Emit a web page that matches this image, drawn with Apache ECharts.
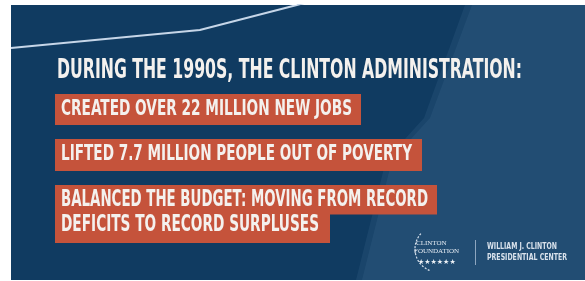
<!DOCTYPE html>
<html>
<head>
<meta charset="utf-8">
<script src="https://cdn.jsdelivr.net/npm/echarts@6/dist/echarts.min.js"></script>
<style>
  html, body { margin: 0; padding: 0; background: #fff; }
  #main { width: 585px; height: 281px; }
</style>
</head>
<body>
<div id="main"></div>
<script>
// trend line at the top of the panel (x / y in percent of the panel)
var trendX = [0, 32.9, 49.8, 60.8];
var trendY = [84.4, 90.9, 100, 106.2];

var heading = 'DURING THE 1990S, THE CLINTON ADMINISTRATION:';
var facts = [
    'CREATED OVER 22 MILLION NEW JOBS',
    'LIFTED 7.7 MILLION PEOPLE OUT OF POVERTY',
    'BALANCED THE BUDGET: MOVING FROM RECORD',
    'DEFICITS TO RECORD SURPLUSES'
];
var logoLeft = ['CLINTON', 'FOUNDATION'];
var logoRight = ['WILLIAM J. CLINTON', 'PRESIDENTIAL CENTER'];

var FONT_FAMILY = '"Liberation Sans Narrow", "DejaVu Sans Condensed", "Liberation Sans", sans-serif';
var NAVY = '#103b61';
var RED = '#c5533b';

// canvas used to measure text so it can be squeezed to the condensed width
var measureCtx = document.createElement('canvas').getContext('2d');
function squeezed(text, size, left, midY, width, color, z) {
    var font = 'bold ' + size + 'px ' + FONT_FAMILY;
    measureCtx.font = font;
    var w = measureCtx.measureText(text).width;
    return {
        type: 'text',
        x: left,
        y: midY,
        scaleX: width / w,
        z: z || 50,
        style: {
            text: text,
            font: font,
            fill: color || '#f4f1ee',
            align: 'left',
            verticalAlign: 'middle'
        }
    };
}

function box(x1, y1, x2, y2) {
    return {
        type: 'rect',
        z: 40,
        shape: { x: x1, y: y1, width: x2 - x1, height: y2 - y1 },
        style: { fill: RED }
    };
}

var chart = echarts.init(document.getElementById('main'), null, { renderer: 'canvas' });

var elements = [
    // panel background
    { type: 'rect', z: -20, shape: { x: 11, y: 5, width: 574, height: 275 }, style: { fill: NAVY } },
    // lighter diagonal area on the right (soft edge)
    { type: 'polygon', z: -19, shape: { points: [[465, 5], [585, 5], [585, 280], [356, 280], [386, 160], [424, 118]] },
      style: { fill: 'rgba(70,118,156,0.18)' } },
    { type: 'polygon', z: -18, shape: { points: [[472, 5], [585, 5], [585, 280], [362, 280], [392, 160], [430, 118]] },
      style: { fill: 'rgba(70,118,156,0.18)' } },

    // red boxes
    box(55, 94, 361, 125),
    box(55, 139, 422, 171),
    box(55, 185, 437, 214.5),
    box(55, 214, 330, 243),

    // heading and facts
    squeezed(heading, 26, 57, 71, 465),
    squeezed(facts[0], 22, 61, 109.5, 291),
    squeezed(facts[1], 22, 61, 154.5, 351),
    squeezed(facts[2], 23, 61, 200, 367),
    squeezed(facts[3], 23, 61, 225.5, 258),

    // logo: foundation
    { type: 'arc', z: 45, shape: { cx: 438, cy: 249, r: 23, startAngle: Math.PI * 0.62, endAngle: Math.PI * 1.25 },
      style: { stroke: '#d9e3ee', lineWidth: 1.2, fill: null, lineDash: [2, 1.5] } },
    { type: 'text', z: 50, x: 416, y: 243, style: { text: logoLeft[0], font: '7px "Liberation Serif", serif', fill: '#e3eaf2', verticalAlign: 'middle' } },
    { type: 'text', z: 50, x: 414, y: 251, style: { text: logoLeft[1], font: '7px "Liberation Serif", serif', fill: '#e3eaf2', verticalAlign: 'middle' } },
    { type: 'text', z: 50, x: 418, y: 262, style: { text: '★★★★★★', font: '7px "DejaVu Sans", sans-serif', fill: '#eef2f7', verticalAlign: 'middle' } },

    // divider
    { type: 'line', z: 45, shape: { x1: 475.5, y1: 240, x2: 475.5, y2: 265 }, style: { stroke: '#8ea6bf', lineWidth: 1 } },

    // logo: presidential center
    squeezed(logoRight[0], 9, 487, 247, 70, '#d9e2ec'),
    squeezed(logoRight[1], 9, 487, 258, 80, '#d9e2ec')
];

var option = {
    animation: false,
    backgroundColor: '#ffffff',
    grid: { left: 11, right: 0, top: 5, bottom: 1 },
    xAxis: { type: 'value', min: 0, max: 100, show: false },
    yAxis: { type: 'value', min: 0, max: 100, show: false },
    graphic: { elements: elements },
    series: [
        {
            name: 'trend',
            type: 'line',
            clip: true,
            symbol: 'none',
            z: 10,
            lineStyle: { color: '#c6d6e8', width: 2 },
            data: trendX.map(function (x, i) { return [x, trendY[i]]; })
        }
    ]
};

chart.setOption(option);
</script>
</body>
</html>
